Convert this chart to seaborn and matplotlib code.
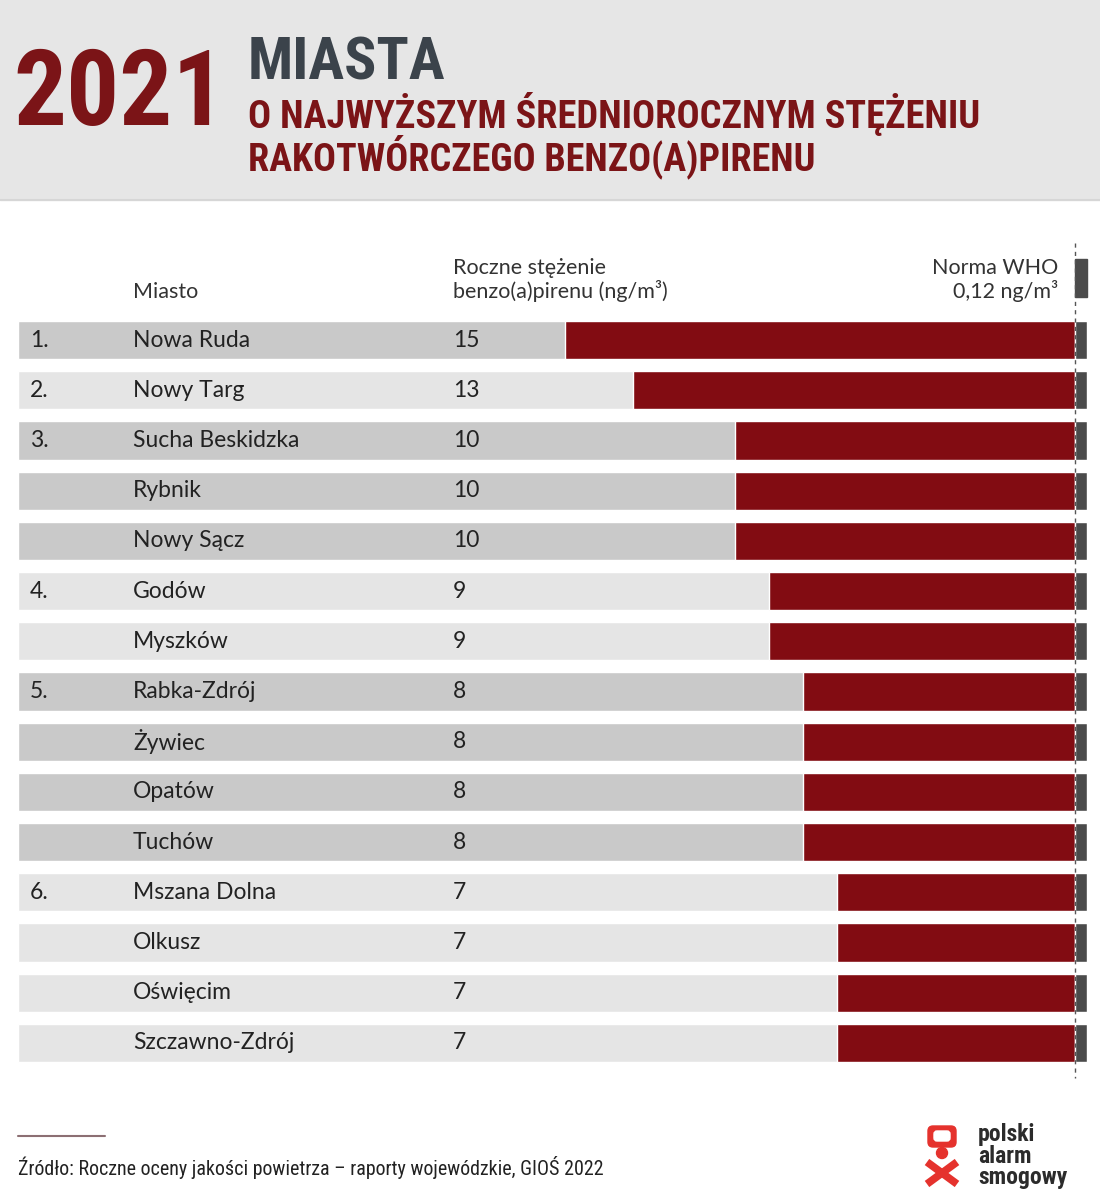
import numpy as np
import pandas as pd
import matplotlib
matplotlib.use("Agg")
import matplotlib.pyplot as plt
import matplotlib.font_manager as fm
from matplotlib.patches import Rectangle, FancyBboxPatch, Circle
import seaborn as sns

# dane
ranks = ['1.', '2.', '3.', '', '', '4.', '', '5.', '', '', '', '6.', '', '', '']
groups = [1, 2, 3, 3, 3, 4, 4, 5, 5, 5, 5, 6, 6, 6, 6]
cities = ['Nowa Ruda', 'Nowy Targ', 'Sucha Beskidzka', 'Rybnik', 'Nowy Sącz',
          'Godów', 'Myszków', 'Rabka-Zdrój', 'Żywiec', 'Opatów', 'Tuchów',
          'Mszana Dolna', 'Olkusz', 'Oświęcim', 'Szczawno-Zdrój']
values = [15, 13, 10, 10, 10, 9, 9, 8, 8, 8, 8, 7, 7, 7, 7]
who_norm = 0.12

RED = '#820c12'
DARK_RED = '#7b1417'
SLATE = '#3b434b'
BAND_DARK = '#c9c9c9'
BAND_LIGHT = '#e5e5e5'
WHO_GRAY = '#4b4b4b'
TXT = '#222222'

sns.set_style('white')
names = {f.name for f in fm.fontManager.ttflist}
body_font = 'Lato' if 'Lato' in names else 'DejaVu Sans'
cond_font = 'Roboto'
for c in ['Roboto Condensed', 'Liberation Sans Narrow', 'Open Sans Condensed', 'Noto Sans Condensed']:
    if c in names:
        cond_font = c
        break
plt.rcParams['font.family'] = [body_font, 'DejaVu Sans']

W, H = 1100, 1198
fig = plt.figure(figsize=(W / 100, H / 100), dpi=100)

df = pd.DataFrame({'Miasto': cities, 'Wartosc': values})

# osie tabeli (px): lewo 18, prawo 1087, gora 315, dol 1068
L, R, T, B = 18, 1087, 315, 1068
ax = fig.add_axes([L / W, 1 - B / H, (R - L) / W, (B - T) / H])
px_per_unit = 34.0
x_left = (1075 - L) / px_per_unit
x_right = -(R - 1075) / px_per_unit

sns.barplot(data=df, x='Wartosc', y='Miasto', orient='h', color=RED,
            saturation=1, width=0.76, ax=ax, zorder=3)
pos = np.arange(len(cities))
band_cols = [BAND_DARK if g % 2 == 1 else BAND_LIGHT for g in groups]
ax.barh(pos, width=x_left - x_right, left=x_right, height=0.76,
        color=band_cols, zorder=1)
ax.barh(pos, width=x_right, left=0, height=0.76, color=WHO_GRAY, zorder=3)
ax.set_xlim(x_left, x_right)
ax.set_ylim(len(cities) - 0.5, -0.5)
ax.axis('off')

tr = ax.get_yaxis_transform()
fx = lambda px: (px - L) / (R - L)
for i in range(len(cities)):
    ax.text(fx(30), i, ranks[i], transform=tr, va='center', fontsize=16.5, color=TXT)
    ax.text(fx(133), i, cities[i], transform=tr, va='center', fontsize=16.5, color=TXT)
    ax.text(fx(453), i, str(values[i]), transform=tr, va='center', fontsize=16.5, color=TXT)

# warstwa wierzchnia
ov = fig.add_axes([0, 0, 1, 1])
ov.set_xlim(0, W)
ov.set_ylim(H, 0)
ov.patch.set_alpha(0)
ov.axis('off')

ov.add_patch(Rectangle((0, 0), W, 200, color='#e6e6e6', zorder=0))
ov.plot([0, W], [200, 200], color='#d6d6d6', lw=1.5)

fig.canvas.draw()
rend = fig.canvas.get_renderer()


def fit_text(x, y, s, target_w, color, fs=40, **kw):
    t = ov.text(x, y, s, color=color, fontsize=fs, fontweight='bold',
                family=[cond_font, 'DejaVu Sans'], va='baseline', ha='left', **kw)
    w = t.get_window_extent(rend).width
    t.set_fontsize(fs * target_w / w)
    return t


fit_text(13, 125, '2021', 212, DARK_RED)
fit_text(248, 80, 'MIASTA', 197, SLATE)
fit_text(248, 128, 'O NAJWYŻSZYM ŚREDNIOROCZNYM STĘŻENIU', 729, DARK_RED)
fit_text(248, 170, 'RAKOTWÓRCZEGO BENZO(A)PIRENU', 567, DARK_RED)

# naglowki kolumn
ov.text(133, 298, 'Miasto', fontsize=15.5, color='#333333', va='baseline')
ov.text(453, 274, 'Roczne stężenie', fontsize=15.5, color='#333333', va='baseline')
ov.text(453, 298, 'benzo(a)pirenu (ng/m³)', fontsize=15.5, color='#333333', va='baseline')
ov.text(1058, 274, 'Norma WHO', fontsize=15.5, color='#333333', va='baseline', ha='right')
ov.text(1058, 298, f'{str(who_norm).replace(".", ",")} ng/m³', fontsize=15.5,
        color='#333333', va='baseline', ha='right')
ov.add_patch(Rectangle((1075, 259), 12, 38, color=WHO_GRAY))
ov.plot([1075, 1075], [243, 1078], color='#555555', lw=1, ls=(0, (3, 3)), zorder=5)

# zrodlo
ov.plot([18, 105], [1136, 1136], color='#8c6f73', lw=1.5)
src = ov.text(18, 1175, 'Źródło: Roczne oceny jakości powietrza – raporty wojewódzkie, GIOŚ 2022',
              fontsize=13, color=TXT, va='baseline',
              family=[cond_font, body_font, 'DejaVu Sans'])
w = src.get_window_extent(rend).width
src.set_fontsize(13 * 585 / w)

# logo
LOGO_RED = '#e5322d'
ov.add_patch(FancyBboxPatch((928, 1126), 28, 21, boxstyle='round,pad=0,rounding_size=5',
                            color=LOGO_RED, zorder=4))
ov.add_patch(FancyBboxPatch((934, 1131), 16, 10, boxstyle='round,pad=0,rounding_size=3',
                            color='white', zorder=5))
ov.add_patch(Circle((942, 1153), 5.5, color=LOGO_RED, zorder=4))
ov.plot([927, 957], [1162, 1184], color=LOGO_RED, lw=5.5, solid_capstyle='butt')
ov.plot([927, 957], [1184, 1162], color=LOGO_RED, lw=5.5, solid_capstyle='butt')
logo_fs = 17
ov.text(978, 1184, 'polski\nalarm\nsmogowy', fontsize=logo_fs, fontweight='bold',
        color='#2b2b2b', va='baseline', ha='left', linespacing=21.5 / (logo_fs * 100 / 72),
        family=[cond_font, 'DejaVu Sans'])

fig.savefig('out.png', dpi=100)
